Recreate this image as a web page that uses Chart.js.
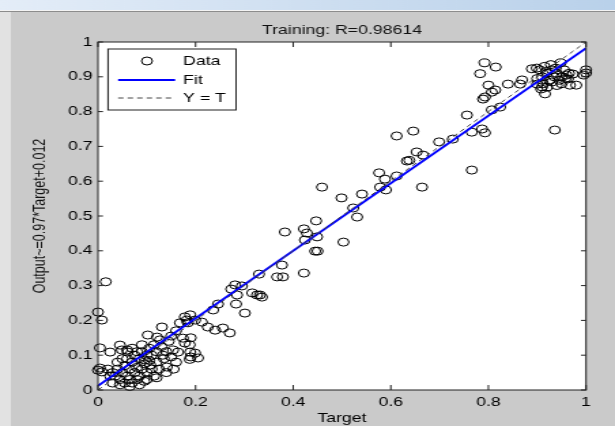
<!DOCTYPE html>
<html>
<head>
<meta charset="utf-8">
<script src="https://cdn.jsdelivr.net/npm/chart.js@4.4.1/dist/chart.umd.min.js"></script>
<style>
  html, body { margin: 0; padding: 0; background: #cacaca; overflow: hidden; }
  /* the reference screenshot is stretched sideways, so the chart is too */
  #wrap { position: absolute; left: 0; top: 0; width: 452px; height: 426px;
          transform: scaleX(1.3606); transform-origin: 0 0; }
</style>
</head>
<body>
<div id="wrap"><canvas id="chart"></canvas></div>
<script>
/* ================= DATA ================= */
const TITLE = "Training: R=0.98614";
const X_TITLE = "Target";
const Y_TITLE = "Output~=0.97*Target+0.012";

const xTicks = [0, 0.2, 0.4, 0.6, 0.8, 1];
const xTickLabels = ["0", "0.2", "0.4", "0.6", "0.8", "1"];
const yTicks = [0, 0.1, 0.2, 0.3, 0.4, 0.5, 0.6, 0.7, 0.8, 0.9, 1];
const yTickLabels = ["0", "0.1", "0.2", "0.3", "0.4", "0.5", "0.6", "0.7", "0.8", "0.9", "1"];

const FIT_SLOPE = 0.97;
const FIT_INTERCEPT = 0.012;
const lineTargets = [0, 1];

/* [target, output] */
const topCluster = [
  [0.905,0.92],[0.91,0.90],[0.915,0.93],[0.92,0.91],[0.925,0.89],[0.93,0.92],
  [0.935,0.90],[0.94,0.91],[0.945,0.89],[0.95,0.90],[0.955,0.92],[0.96,0.905],
  [0.912,0.88],[0.92,0.87],[0.93,0.885],[0.94,0.875],[0.95,0.88],[0.958,0.895],
  [0.9,0.895],[0.908,0.865],[0.918,0.915],[0.928,0.935],[0.938,0.925],[0.948,0.94],
  [0.965,0.91],[0.973,0.908],[0.963,0.894],[0.98,0.876],[0.967,0.876],[1.0,0.911],
  [1.0,0.92],[0.995,0.905],[0.9,0.879],[0.91,0.871],[0.916,0.851],[0.889,0.923],
  [0.899,0.925],[0.936,0.747]
];

const midPoints = [
  [0.792,0.94],[0.815,0.928],[0.783,0.909],[0.8,0.876],[0.814,0.862],[0.807,0.856],
  [0.793,0.842],[0.789,0.836],[0.84,0.879],[0.869,0.891],[0.865,0.879],[0.756,0.79],
  [0.807,0.805],[0.824,0.813],[0.766,0.741],[0.787,0.75],[0.793,0.739],[0.766,0.632],
  [0.727,0.721],[0.699,0.713],[0.664,0.583],[0.653,0.684],[0.666,0.675],[0.633,0.658],
  [0.638,0.66],[0.646,0.744],[0.612,0.73],[0.612,0.615],[0.588,0.606],[0.576,0.624],
  [0.578,0.583],[0.59,0.575],[0.541,0.563],[0.523,0.523],[0.531,0.497],[0.499,0.552],
  [0.503,0.425],[0.459,0.583],[0.447,0.486],[0.383,0.454],[0.422,0.463],[0.428,0.451],
  [0.424,0.431],[0.449,0.44],[0.445,0.399],[0.45,0.399],[0.377,0.359],[0.33,0.333],
  [0.367,0.325],[0.379,0.325],[0.422,0.336],[0.281,0.302],[0.295,0.299],[0.273,0.29],
  [0.285,0.273],[0.316,0.279],[0.326,0.273],[0.336,0.267],[0.332,0.273],[0.283,0.247],
  [0.246,0.247],[0.301,0.221],[0.236,0.23]
];

const lowPoints = [
  [0.016,0.311],[0,0.224],[0.008,0.201],[0.004,0.121],[0.025,0.109],[0.045,0.129],
  [0.004,0.063],[0.008,0.052],[0,0.057],[0.102,0.158],[0.121,0.152],[0.131,0.181],
  [0.127,0.144],[0.178,0.21],[0.168,0.193],[0.184,0.193],[0.199,0.201],[0.213,0.195],
  [0.225,0.181],[0.24,0.172],[0.256,0.178],[0.27,0.164],[0.174,0.149],[0.178,0.135],
  [0.133,0.1],[0.154,0.115],[0.164,0.109],[0.189,0.109],[0.199,0.106],[0.205,0.092],
  [0.141,0.066],[0.096,0.086],[0.107,0.072],[0.049,0.115],[0.061,0.109],[0.189,0.216],
  [0.182,0.201],[0.16,0.17],[0.15,0.155],[0.19,0.15],[0.188,0.13],[0.19,0.095],
  [0.188,0.088]
];

const originCluster = [
  [0.03,0.05],[0.035,0.04],[0.04,0.06],[0.045,0.03],[0.05,0.05],[0.055,0.02],
  [0.055,0.07],[0.06,0.04],[0.06,0.09],[0.065,0.03],[0.065,0.06],[0.07,0.02],
  [0.07,0.08],[0.075,0.05],[0.075,0.1],[0.08,0.03],[0.08,0.065],[0.085,0.09],
  [0.085,0.04],[0.09,0.11],[0.09,0.06],[0.095,0.025],[0.095,0.075],[0.1,0.1],
  [0.1,0.05],[0.105,0.12],[0.105,0.085],[0.11,0.06],[0.11,0.1],[0.115,0.13],
  [0.115,0.04],[0.12,0.08],[0.12,0.11],[0.125,0.06],[0.13,0.125],[0.135,0.09],
  [0.14,0.11],[0.145,0.14],[0.15,0.095],[0.07,0.12],[0.08,0.11],[0.09,0.13],
  [0.06,0.115],[0.05,0.09],[0.04,0.08],[0.02,0.06],[0.025,0.04],[0.03,0.02],
  [0.045,0.015],[0.065,0.01],[0.085,0.015],[0.1,0.03],[0.12,0.035],[0.14,0.05],
  [0.16,0.08],[0.155,0.06]
];

const allPoints = [...topCluster, ...midPoints, ...lowPoints, ...originCluster];

/* ================= FRAME / LEGEND PLUGIN ================= */
const matlabFrame = {
  id: "matlabFrame",
  beforeDraw(chart) {
    const { ctx, width, height, chartArea: a } = chart;
    ctx.save();
    ctx.fillStyle = "#cacaca";
    ctx.fillRect(0, 0, width, height);
    // window title strip
    const g = ctx.createLinearGradient(0, 0, width, 0);
    g.addColorStop(0, "#e4edf8");
    g.addColorStop(1, "#b9d1ea");
    ctx.fillStyle = g;
    ctx.fillRect(0, 0, width, 10);
    ctx.fillStyle = "#f4f4f4";
    ctx.fillRect(0, 10, width, 1);
    ctx.fillStyle = "#8c8c8c";
    ctx.fillRect(0, 11, width, 1);
    ctx.fillStyle = "#e2e2e2";
    ctx.fillRect(0, 12, 8, height - 12);
    // axes background
    ctx.fillStyle = "#ffffff";
    ctx.fillRect(a.left, a.top, a.right - a.left, a.bottom - a.top);
    ctx.restore();
  },
  afterDatasetsDraw(chart) {
    const { ctx, chartArea: a, scales } = chart;
    ctx.save();
    ctx.strokeStyle = "#222";
    ctx.lineWidth = 1;
    ctx.strokeRect(a.left, a.top, a.right - a.left, a.bottom - a.top);
    ctx.beginPath();
    xTicks.forEach(v => {
      const px = scales.x.getPixelForValue(v);
      ctx.moveTo(px, a.bottom); ctx.lineTo(px, a.bottom - 5);
      ctx.moveTo(px, a.top); ctx.lineTo(px, a.top + 5);
    });
    yTicks.forEach(v => {
      const py = scales.y.getPixelForValue(v);
      ctx.moveTo(a.left, py); ctx.lineTo(a.left + 3.7, py);
      ctx.moveTo(a.right, py); ctx.lineTo(a.right - 3.7, py);
    });
    ctx.stroke();
    ctx.restore();
  },
  afterDraw(chart) {
    const { ctx } = chart;
    const ds = chart.data.datasets;
    const box = { x: 79.4, y: 49, w: 94.1, h: 61 };
    const rows = [61, 80, 98];
    ctx.save();
    ctx.fillStyle = "#ffffff";
    ctx.fillRect(box.x, box.y, box.w, box.h);
    ctx.strokeStyle = "#222";
    ctx.lineWidth = 1;
    ctx.strokeRect(box.x, box.y, box.w, box.h);
    ctx.font = "13px 'Liberation Sans', Arial, sans-serif";
    ctx.textBaseline = "middle";
    ctx.fillStyle = "#000";
    ds.forEach((d, i) => {
      const y = rows[i];
      if (d.showLine) {
        ctx.beginPath();
        ctx.strokeStyle = d.borderColor;
        ctx.lineWidth = d.borderWidth;
        ctx.setLineDash(d.borderDash || []);
        ctx.moveTo(86.8, y); ctx.lineTo(128.7, y);
        ctx.stroke();
        ctx.setLineDash([]);
      } else {
        ctx.beginPath();
        ctx.strokeStyle = d.pointBorderColor;
        ctx.lineWidth = 1;
        ctx.arc(108, y, d.pointRadius, 0, Math.PI * 2);
        ctx.stroke();
      }
      ctx.fillText(d.label, 134.6, y + 0.5);
    });
    ctx.restore();
  }
};

/* ================= CHART ================= */
Chart.defaults.font.family = "'Liberation Sans', Arial, sans-serif";
Chart.defaults.color = "#000";

new Chart(document.getElementById("chart").getContext("2d"), {
  type: "scatter",
  data: {
    datasets: [
      {
        label: "Data",
        data: allPoints.map(([t, o]) => ({ x: t, y: o })),
        pointRadius: 4,
        pointBorderWidth: 1,
        pointBorderColor: "#000",
        pointBackgroundColor: "rgba(0,0,0,0)",
        showLine: false,
        clip: false,
        order: 3
      },
      {
        label: "Fit",
        data: lineTargets.map(t => ({ x: t, y: FIT_SLOPE * t + FIT_INTERCEPT })),
        showLine: true,
        borderColor: "#0000ff",
        borderWidth: 2,
        pointRadius: 0,
        order: 2
      },
      {
        label: "Y = T",
        data: lineTargets.map(t => ({ x: t, y: t })),
        showLine: true,
        borderColor: "#444",
        borderWidth: 1,
        borderDash: [4, 3],
        pointRadius: 0,
        order: 1
      }
    ]
  },
  options: {
    responsive: true,
    maintainAspectRatio: false,
    animation: false,
    layout: { padding: { left: 0, right: 21.3, top: 0, bottom: 0 } },
    plugins: {
      legend: { display: false },
      tooltip: { enabled: false },
      title: {
        display: true,
        text: TITLE,
        fullSize: false,
        color: "#111",
        font: { size: 13, weight: "normal", lineHeight: 1.2 },
        padding: { top: 23, bottom: 3.4 }
      }
    },
    scales: {
      x: {
        type: "linear",
        min: 0,
        max: 1,
        afterBuildTicks: s => { s.ticks = xTicks.map(v => ({ value: v })); },
        afterFit: s => { s.height = 36; },
        ticks: {
          callback: (v, i) => xTickLabels[i],
          padding: 5,
          maxRotation: 0,
          autoSkip: false,
          color: "#000",
          font: { size: 13 }
        },
        grid: { display: false, drawTicks: false },
        border: { display: false },
        title: {
          display: true,
          text: X_TITLE,
          color: "#000",
          font: { size: 13, lineHeight: 1.2 },
          padding: { top: 0, bottom: 0 }
        }
      },
      y: {
        type: "linear",
        min: 0,
        max: 1,
        afterBuildTicks: s => { s.ticks = yTicks.map(v => ({ value: v })); },
        afterFit: s => { s.width = 72; },
        ticks: {
          callback: (v, i) => yTickLabels[i],
          padding: 4,
          autoSkip: false,
          color: "#000",
          font: { size: 13 }
        },
        grid: { display: false, drawTicks: false },
        border: { display: false },
        title: {
          display: true,
          text: Y_TITLE,
          color: "#111",
          font: { size: 12.5, lineHeight: 1.2 },
          padding: { top: 22, bottom: 0 }
        }
      }
    }
  },
  plugins: [matlabFrame]
});
</script>
</body>
</html>
